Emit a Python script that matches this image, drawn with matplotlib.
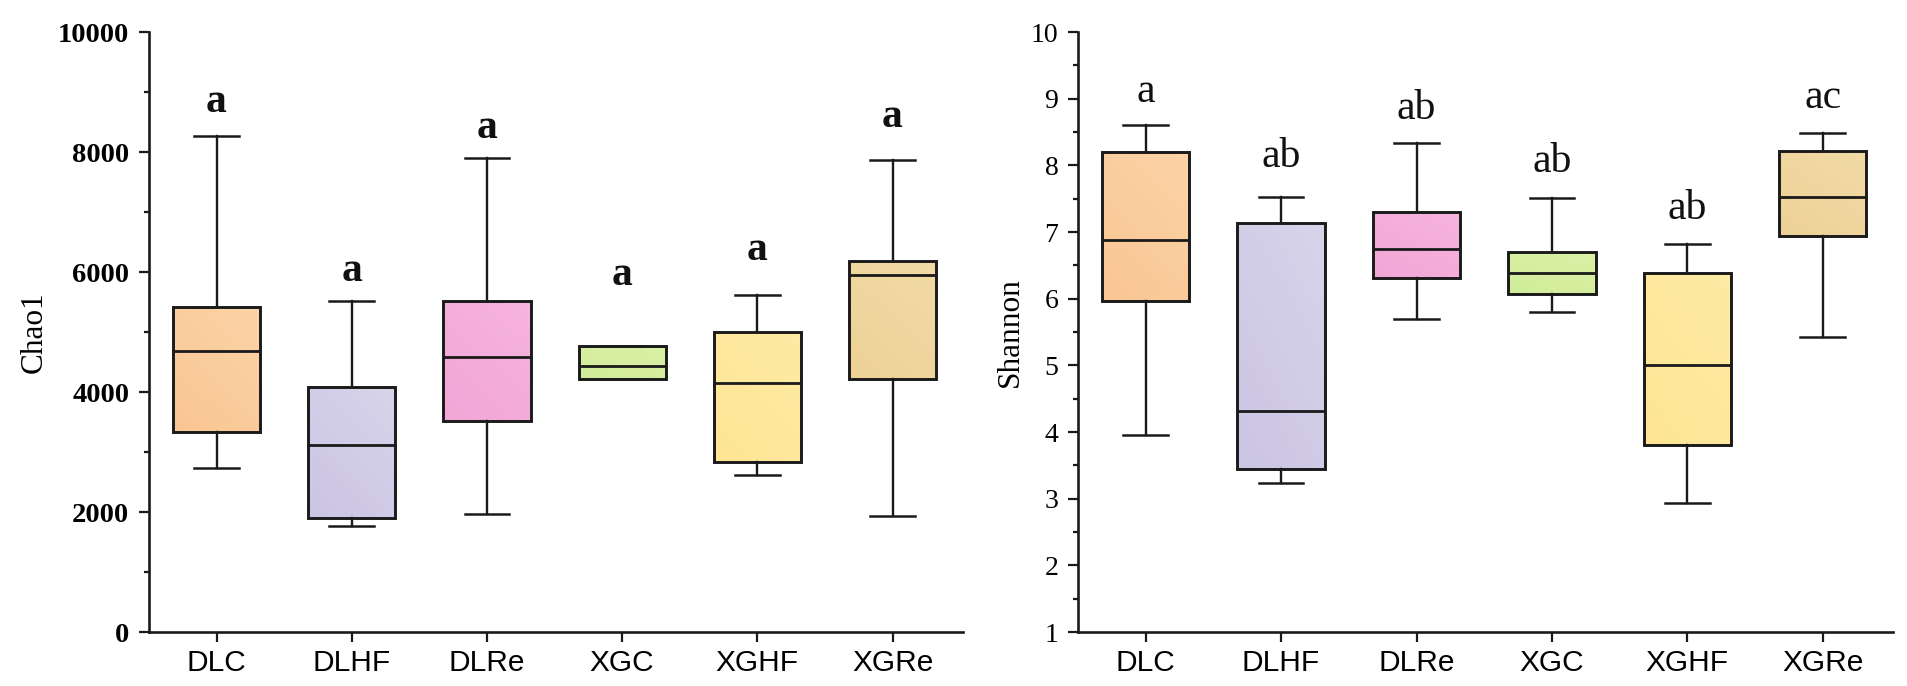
import numpy as np
import matplotlib
matplotlib.use('Agg')
import matplotlib.pyplot as plt
from matplotlib.colors import LinearSegmentedColormap
from matplotlib.ticker import MultipleLocator

# ---------------- data ----------------
groups = ['DLC', 'DLHF', 'DLRe', 'XGC', 'XGHF', 'XGRe']

chao_whislo = [2734, 1762, 1959, 4218, 2617, 1937]
chao_q1 = [3326, 1901, 3516, 4218, 2836, 4218]
chao_med = [4686, 3121, 4591, 4437, 4152, 5958]
chao_q3 = [5409, 4086, 5519, 4759, 4993, 6177]
chao_whishi = [8260, 5519, 7902, 4759, 5614, 7866]
chao_letters = ['a', 'a', 'a', 'a', 'a', 'a']
chao_letter_y = [8830, 6016, 8406, 5943, 6367, 8589]

shan_whislo = [3.95, 3.24, 5.70, 5.80, 2.94, 5.43]
shan_q1 = [5.96, 3.45, 6.31, 6.07, 3.81, 6.94]
shan_med = [6.88, 4.31, 6.75, 6.38, 5.01, 7.53]
shan_q3 = [8.20, 7.14, 7.30, 6.70, 6.38, 8.22]
shan_whishi = [8.61, 7.53, 8.34, 7.51, 6.82, 8.49]
shan_letters = ['a', 'ab', 'ab', 'ab', 'ab', 'ac']
shan_letter_y = [9.10, 8.13, 8.85, 8.06, 7.35, 9.01]

light_colors = ['#FCD3A6', '#D8D4EA', '#F6B4DE', '#DAF1A6', '#FEEBA4', '#F3DBA6']
dark_colors = ['#F9C693', '#CBC4E4', '#F2A6D7', '#D0EC98', '#FDE594', '#EDD196']

SERIF = 'Liberation Serif'
SANS = 'Liberation Sans'
EDGE = '#1a1a1a'


def panel(ax, whislo, q1, med, q3, whishi, letters, letter_y, ylim,
          major, minor, ylabel, letter_weight, label_x):
    stats = [dict(whislo=a, q1=b, med=c, q3=d, whishi=e, label=g)
             for a, b, c, d, e, g in zip(whislo, q1, med, q3, whishi, groups)]
    positions = np.arange(1, len(groups) + 1)
    bp = ax.bxp(stats, positions=positions, widths=0.645, capwidths=0.33,
                patch_artist=True, showfliers=False,
                boxprops=dict(facecolor='none', edgecolor=EDGE, linewidth=2.1),
                whiskerprops=dict(color=EDGE, linewidth=1.7),
                capprops=dict(color=EDGE, linewidth=1.8),
                medianprops=dict(color=EDGE, linewidth=2.0))
    n = 64
    ii, jj = np.mgrid[0:n, 0:n] / (n - 1)
    grad = 0.6 * ii + 0.4 * (1 - jj)
    grad = grad / grad.max()
    for patch, lc, dc in zip(bp['boxes'], light_colors, dark_colors):
        ext = patch.get_path().get_extents()
        cmap = LinearSegmentedColormap.from_list('g', [lc, dc])
        im = ax.imshow(grad, extent=(ext.x0, ext.x1, ext.y0, ext.y1),
                       origin='upper', cmap=cmap, aspect='auto',
                       interpolation='bilinear', zorder=1.5)
        im.set_clip_path(patch)

    for p, t, y in zip(positions, letters, letter_y):
        ax.text(p, y, t, ha='center', va='center', fontsize=30,
                family=SERIF, weight=letter_weight, color='#111111')

    ax.set_xlim(0.5, 6.52)
    ax.set_ylim(*ylim)
    ax.set_xticks(positions)
    ax.set_xticklabels(groups, family=SANS, fontsize=21.5)
    ax.yaxis.set_major_locator(MultipleLocator(major))
    ax.yaxis.set_minor_locator(MultipleLocator(minor))
    ax.tick_params(axis='both', which='major', direction='out', length=7.2,
                   width=1.6, color=EDGE)
    ax.tick_params(axis='y', which='major', pad=7)
    ax.tick_params(axis='x', which='major', pad=5)
    ax.tick_params(axis='y', which='minor', direction='out', length=3.6,
                   width=1.6, color=EDGE)
    for s in ['top', 'right']:
        ax.spines[s].set_visible(False)
    for s in ['left', 'bottom']:
        ax.spines[s].set_linewidth(1.9)
        ax.spines[s].set_color(EDGE)
    ax.set_ylabel(ylabel, family=SERIF, fontsize=22.5)
    ax.yaxis.set_label_coords(label_x, 0.5)


fig = plt.figure(figsize=(19.07, 6.86), dpi=100)
ax1 = fig.add_axes([0.0781, 0.0787, 0.4268, 0.8746])
ax2 = fig.add_axes([0.5653, 0.0787, 0.4274, 0.8746])

panel(ax1, chao_whislo, chao_q1, chao_med, chao_q3, chao_whishi,
      chao_letters, chao_letter_y, (0, 10000), 2000, 1000, 'Chao1', 'bold', -0.123)
ax1.set_yticklabels([f'{int(v)}' for v in ax1.get_yticks()], family=SERIF,
                    fontsize=20.5, weight='bold')
panel(ax2, shan_whislo, shan_q1, shan_med, shan_q3, shan_whishi,
      shan_letters, shan_letter_y, (1, 10), 1, 0.5, 'Shannon', 'normal', -0.065)
ax2.set_yticklabels([f'{int(v)}' for v in ax2.get_yticks()], family=SERIF, fontsize=20)

fig.savefig('out.png', dpi=100)
